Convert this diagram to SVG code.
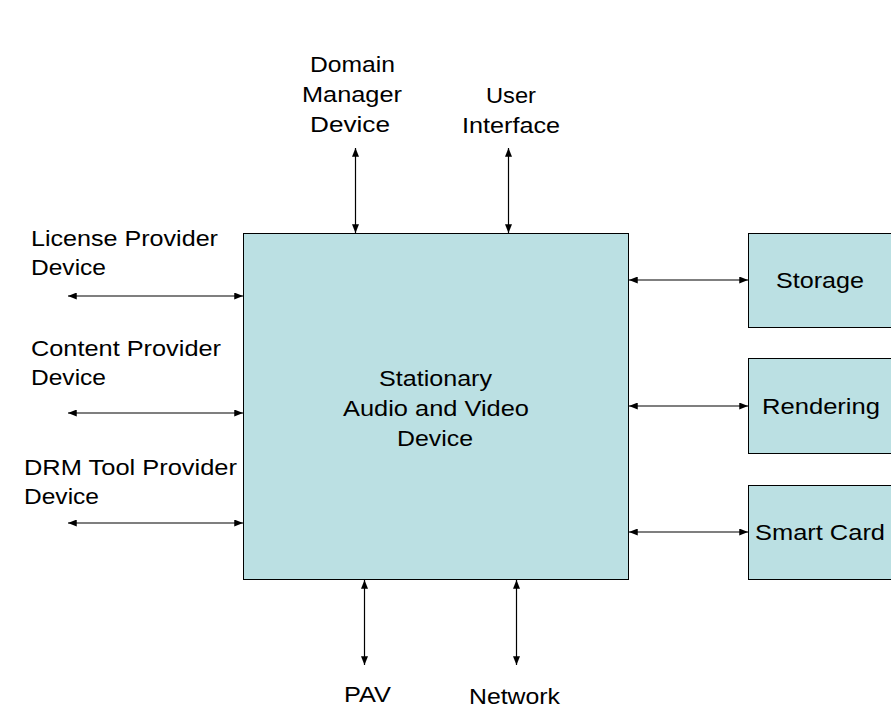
<svg xmlns="http://www.w3.org/2000/svg" width="891" height="711" viewBox="0 0 891 711">
<defs>
<marker id="ah" viewBox="0 0 10 8" refX="10" refY="4" markerWidth="9" markerHeight="7" markerUnits="userSpaceOnUse" orient="auto-start-reverse">
<path d="M0,0 L10,4 L0,8 Z" fill="#000"/>
</marker>
<style>
.box{fill:#BBE0E3;stroke:#000;stroke-width:1}
.t{font-family:"Liberation Sans",Arial,sans-serif;font-size:22px;fill:#000}
.c{stroke:#000;stroke-width:1.2;fill:none;marker-start:url(#ah);marker-end:url(#ah)}
</style>
</defs>
<rect width="891" height="711" fill="#fff"/>
<g id="main">
<rect class="box" x="243.5" y="233.5" width="385" height="346"/>
<text class="t" x="379" y="386" textLength="113" lengthAdjust="spacingAndGlyphs">Stationary</text>
<text class="t" x="343" y="416" textLength="186" lengthAdjust="spacingAndGlyphs">Audio and Video</text>
<text class="t" x="397" y="446" textLength="76" lengthAdjust="spacingAndGlyphs">Device</text>
</g>
<g id="storage">
<rect class="box" x="748.5" y="233.5" width="150" height="94"/>
<text class="t" x="776" y="288" textLength="88" lengthAdjust="spacingAndGlyphs">Storage</text>
</g>
<g id="rendering">
<rect class="box" x="748.5" y="358.5" width="150" height="95"/>
<text class="t" x="762" y="414" textLength="118" lengthAdjust="spacingAndGlyphs">Rendering</text>
</g>
<g id="smartcard">
<rect class="box" x="748.5" y="485.5" width="150" height="94"/>
<text class="t" x="755" y="540" textLength="130" lengthAdjust="spacingAndGlyphs">Smart Card</text>
</g>
<g id="domain">
<text class="t" x="310" y="72" textLength="85" lengthAdjust="spacingAndGlyphs">Domain</text>
<text class="t" x="302" y="102" textLength="100" lengthAdjust="spacingAndGlyphs">Manager</text>
<text class="t" x="310" y="132" textLength="80" lengthAdjust="spacingAndGlyphs">Device</text>
</g>
<g id="ui">
<text class="t" x="486" y="103" textLength="50" lengthAdjust="spacingAndGlyphs">User</text>
<text class="t" x="462" y="133" textLength="98" lengthAdjust="spacingAndGlyphs">Interface</text>
</g>
<g id="license">
<text class="t" x="31" y="246" textLength="187" lengthAdjust="spacingAndGlyphs">License Provider</text>
<text class="t" x="31" y="275" textLength="75" lengthAdjust="spacingAndGlyphs">Device</text>
</g>
<g id="content">
<text class="t" x="31" y="356" textLength="190" lengthAdjust="spacingAndGlyphs">Content Provider</text>
<text class="t" x="31" y="385" textLength="75" lengthAdjust="spacingAndGlyphs">Device</text>
</g>
<g id="drm">
<text class="t" x="24" y="475" textLength="213" lengthAdjust="spacingAndGlyphs">DRM Tool Provider</text>
<text class="t" x="24" y="504" textLength="75" lengthAdjust="spacingAndGlyphs">Device</text>
</g>
<g id="pav">
<text class="t" x="344" y="702" textLength="47" lengthAdjust="spacingAndGlyphs">PAV</text>
</g>
<g id="network">
<text class="t" x="469" y="704" textLength="91" lengthAdjust="spacingAndGlyphs">Network</text>
</g>
<g id="connectors">
<line class="c" x1="355.5" y1="148" x2="355.5" y2="233"/>
<line class="c" x1="508.5" y1="148" x2="508.5" y2="233"/>
<line class="c" x1="68" y1="296" x2="243" y2="296"/>
<line class="c" x1="68" y1="413" x2="243" y2="413"/>
<line class="c" x1="68" y1="523" x2="243" y2="523"/>
<line class="c" x1="629" y1="280" x2="748" y2="280"/>
<line class="c" x1="629" y1="406" x2="748" y2="406"/>
<line class="c" x1="629" y1="532" x2="748" y2="532"/>
<line class="c" x1="364.5" y1="580" x2="364.5" y2="665"/>
<line class="c" x1="516.5" y1="580" x2="516.5" y2="665"/>
</g>
</svg>
